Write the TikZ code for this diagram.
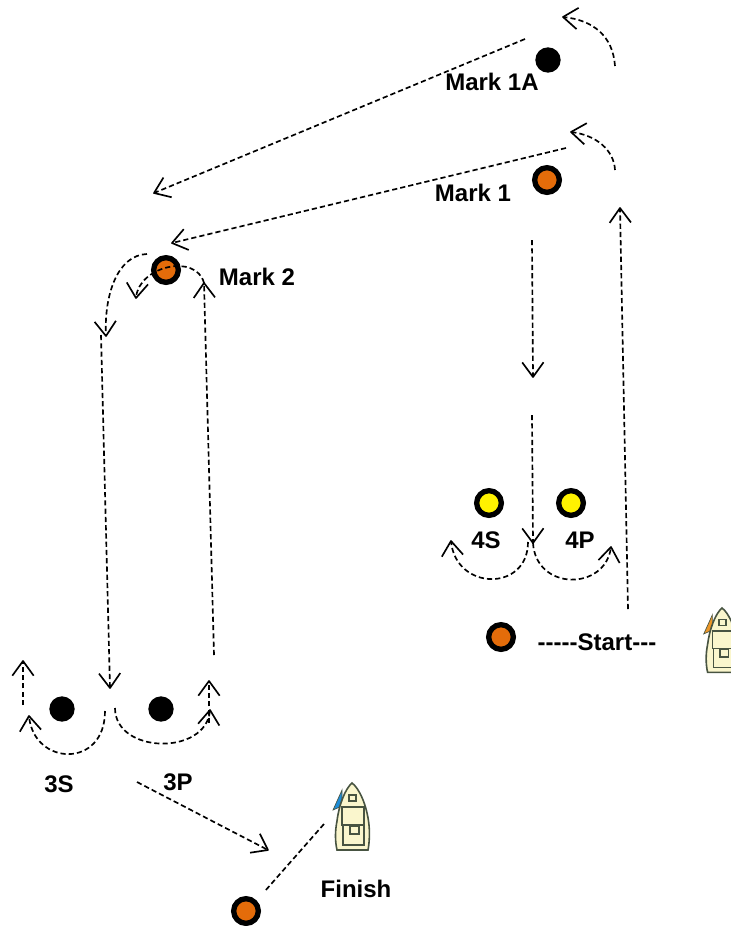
\documentclass[tikz,border=0pt]{standalone}
\usepackage{fontspec}
\setmainfont{Liberation Sans}
\usetikzlibrary{arrows.meta}
\definecolor{markorange}{RGB}{228,108,10}
\definecolor{hullcream}{RGB}{250,246,205}
\definecolor{hullline}{RGB}{72,84,66}
\definecolor{flagblue}{RGB}{30,140,215}
\definecolor{flagorange}{RGB}{235,150,40}
\pgfdeclarearrow{
    name=OpenVee,
    setup code={
        \pgfarrowssettipend{0pt}
        \pgfarrowssetlineend{-0.5pt}
        \pgfarrowssetvisualbackend{-11pt}
        \pgfarrowssetbackend{-11pt}
        \pgfarrowshullpoint{0pt}{0pt}
        \pgfarrowshullpoint{-11pt}{8pt}
        \pgfarrowshullpoint{-11pt}{-8pt}
    },
    drawing code={
        \pgfsetdash{}{0pt}
        \pgfsetroundjoin
        \pgfpathmoveto{\pgfpoint{-11pt}{8pt}}
        \pgfpathlineto{\pgfpoint{0pt}{0pt}}
        \pgfpathlineto{\pgfpoint{-11pt}{-8pt}}
        \pgfusepathqstroke
    }
}
\tikzset{
    ringmark/.style={draw=black, line width=4pt, circle, inner sep=0pt, minimum size=18.5pt},
    orangemark/.style={ringmark, fill=markorange},
    yellowmark/.style={ringmark, fill=yellow},
    blackmark/.style={fill=black, circle, inner sep=0pt, minimum size=19pt},
    marklabel/.style={font=\fontsize{18}{20}\selectfont\bfseries, inner sep=0pt},
    course/.style={line width=1.25pt, dash pattern=on 3.9pt off 2.3pt},
    coursearrow/.style={course, -OpenVee},
    pics/boat/.style={code={
        \draw[hullline, fill=#1, line width=0.5pt] (-10,7) -- (-19,27) -- (-10,23) -- cycle;
        \draw[hullline, fill=hullcream, line width=1.2pt] (0,0) .. controls (7,5) and (15,22) .. (17,42) .. controls (18,52) and (17,62) .. (16,67) -- (-15,67) .. controls (-17,58) and (-17,48) .. (-15,38) .. controls (-13,22) and (-7,6) .. (0,0) -- cycle;
        \draw[hullline, line width=1pt] (-3,12) rectangle (4,18);
        \draw[hullline, line width=1pt] (-10,24) rectangle (12,42);
        \draw[hullline, line width=1pt] (-9,42) rectangle (12,62);
        \draw[hullline, line width=1pt] (-2,43) rectangle (7,51);
    }}
}
\begin{document}
\begin{tikzpicture}[x=0.75pt, y=-0.75pt]
    \clip (0,0) rectangle (731,926);

    \node[blackmark] (markoneA) at (548,60) {};
    \node[orangemark] (markone) at (547,180) {};
    \node[orangemark] (marktwo) at (166,270) {};
    \node[yellowmark] (fourS) at (489,503) {};
    \node[yellowmark] (fourP) at (571,503) {};
    \node[orangemark] (startmark) at (501,637) {};
    \node[blackmark] (threeS) at (62,709) {};
    \node[blackmark] (threeP) at (161,709) {};
    \node[orangemark] (finishmark) at (246,911) {};

    \node[marklabel] (lblmarkoneA) at (492,82) {Mark 1A};
    \node[marklabel] (lblmarkone) at (473,193) {Mark 1};
    \node[marklabel] (lblmarktwo) at (257,277) {Mark 2};
    \node[marklabel] (lblfourS) at (486,540) {4S};
    \node[marklabel] (lblfourP) at (580,540) {4P};
    \node[marklabel] (lblstart) at (597,642) {-{}-{}-{}-{}-Start-{}-{}-};
    \node[marklabel] (lblthreeS) at (59,784) {3S};
    \node[marklabel] (lblthreeP) at (178,782) {3P};
    \node[marklabel] (lblfinish) at (356,889) {Finish};

    \pic at (352,783) {boat=flagblue};
    \pic[scale=0.96] at (722,608) {boat=flagorange};

    \coordinate (legAa) at (525,39);
    \coordinate (legAb) at (154,193);
    \coordinate (legBa) at (566,148);
    \coordinate (legBb) at (172,243);
    \coordinate (roundAa) at (615,66);
    \coordinate (roundAb) at (563,17);
    \coordinate (roundBa) at (615,170);
    \coordinate (roundBb) at (571,132);
    \coordinate (beatRa) at (628,609);
    \coordinate (beatRb) at (620,208);
    \coordinate (runRa) at (532,240);
    \coordinate (runRb) at (533,377);
    \coordinate (runSa) at (532,415);
    \coordinate (runSb) at (533,543);
    \coordinate (gateSa) at (528,542);
    \coordinate (gateSb) at (451,541);
    \coordinate (gatePa) at (533,543);
    \coordinate (gatePb) at (611,547);
    \coordinate (beatLa) at (214,655);
    \coordinate (beatLb) at (204,283);
    \coordinate (roundCb) at (136,298);
    \coordinate (roundDa) at (147,254);
    \coordinate (roundDb) at (106,336);
    \coordinate (runLa) at (101,335);
    \coordinate (runLb) at (110,688);
    \coordinate (gateTa) at (105,711);
    \coordinate (gateTb) at (29,716);
    \coordinate (upSa) at (23,705);
    \coordinate (upSb) at (23,661);
    \coordinate (gateUa) at (115,708);
    \coordinate (gateUb) at (210,710);
    \coordinate (upPa) at (209,723);
    \coordinate (upPb) at (209,681);
    \coordinate (homeAa) at (137,782);
    \coordinate (homeAb) at (268,850);
    \coordinate (lineEa) at (324,824);
    \coordinate (lineEb) at (265,891);

    \draw[coursearrow] (legAa) -- (legAb);
    \draw[coursearrow] (legBa) -- (legBb);
    \draw[coursearrow] (roundAa) .. controls +(-2,-30) and +(30,3) .. (roundAb);
    \draw[coursearrow] (roundBa) .. controls +(-1,-20) and +(25,3) .. (roundBb);
    \draw[coursearrow] (beatRa) -- (beatRb);
    \draw[coursearrow] (runRa) -- (runRb);
    \draw[coursearrow] (runSa) -- (runSb);
    \draw[coursearrow] (gateSa) .. controls +(0,50) and +(5,50) .. (gateSb);
    \draw[coursearrow] (gatePa) .. controls +(3,48) and +(-6,44) .. (gatePb);
    \draw[coursearrow] (beatLa) -- (beatLb);
    \draw[coursearrow] (beatLb) .. controls +(-8,-30) and +(3,-32) .. (roundCb);
    \draw[coursearrow] (roundDa) .. controls +(-30,1) and +(-2,-40) .. (roundDb);
    \draw[coursearrow] (runLa) -- (runLb);
    \draw[coursearrow] (gateTa) .. controls +(0,58) and +(5,50) .. (gateTb);
    \draw[coursearrow] (upSa) -- (upSb);
    \draw[coursearrow] (gateUa) .. controls +(0,46) and +(-4,46) .. (gateUb);
    \draw[coursearrow] (upPa) -- (upPb);
    \draw[coursearrow] (homeAa) -- (homeAb);
    \draw[course] (lineEa) -- (lineEb);
\end{tikzpicture}
\end{document}
